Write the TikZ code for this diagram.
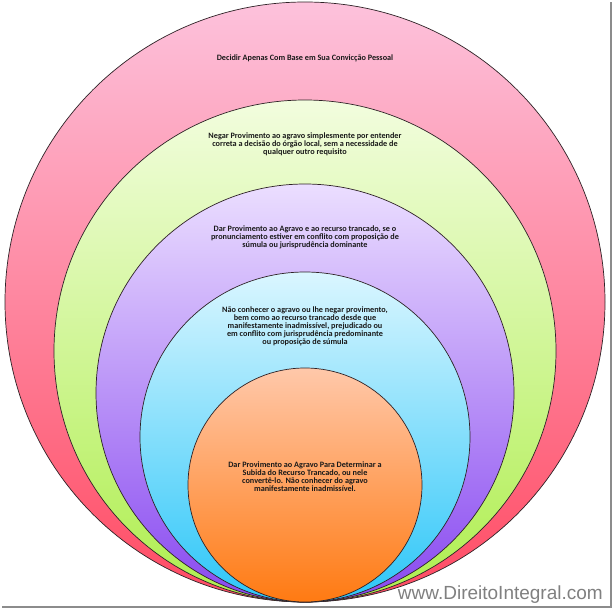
\documentclass[tikz,border=0pt]{standalone}
\usepackage{fontspec}
\setmainfont{Carlito}
\newfontfamily\webfont{Liberation Sans}
\usetikzlibrary{positioning}
\definecolor{pinkTop}{HTML}{FDC2DC}
\definecolor{pinkBot}{HTML}{FF4A62}
\definecolor{greenTop}{HTML}{F2FDDE}
\definecolor{greenBot}{HTML}{AEEE4E}
\definecolor{purpleTop}{HTML}{EBDEFF}
\definecolor{purpleBot}{HTML}{8848F0}
\definecolor{blueTop}{HTML}{DAF6FF}
\definecolor{blueBot}{HTML}{2CC6F8}
\definecolor{orangeTop}{HTML}{FFC8AA}
\definecolor{orangeBot}{HTML}{FF7A12}
\definecolor{ringLine}{HTML}{2E2226}

\begin{document}
\begin{tikzpicture}[x=1pt, y=-1pt,
    ringCircle/.style={circle, draw=ringLine, line width=0.7pt, inner sep=0pt, shading=axis},
    ringText/.style={font=\fontsize{8.2}{8}\selectfont\bfseries, text=black!90, align=center, inner sep=0pt},
    frameEdge/.style={fill=black!45}
]
    \useasboundingbox (0,0) rectangle (614,611);
    \fill[white] (0,0) rectangle (614,611);

    \node[ringCircle, minimum size=600pt, top color=pinkTop, bottom color=pinkBot] (pink) at (305,302) {};
    \node[ringCircle, minimum size=502pt, top color=greenTop, bottom color=greenBot] (green) at (305,351) {};
    \node[ringCircle, minimum size=418pt, top color=purpleTop, bottom color=purpleBot] (purple) at (305,393) {};
    \node[ringCircle, minimum size=330pt, top color=blueTop, bottom color=blueBot] (blue) at (305,437) {};
    \node[ringCircle, minimum size=234pt, top color=orangeTop, bottom color=orangeBot] (orange) at (305,485) {};

    \node[ringText, below=53pt of pink.north] (tPink) {Decidir Apenas Com Base em Sua Convicção Pessoal};
    \node[ringText, below=33pt of green.north] (tGreen) {
        Negar Provimento ao agravo simplesmente por entender\\
        correta a decisão do órgão local, sem a necessidade de\\
        qualquer outro requisito};
    \node[ringText, below=42pt of purple.north] (tPurple) {
        Dar Provimento ao Agravo e ao recurso trancado, se o\\
        pronunciamento estiver em conflito com proposição de\\
        súmula ou jurisprudência dominante};
    \node[ringText, below=35pt of blue.north] (tBlue) {
        Não conhecer o agravo ou lhe negar provimento,\\
        bem como ao recurso trancado desde que\\
        manifestamente inadmissível, prejudicado ou\\
        em conflito com jurisprudência predominante\\
        ou proposição de súmula};
    \node[ringText, below=94pt of orange.north] (tOrange) {
        Dar Provimento ao Agravo Para Determinar a\\
        Subida do Recurso Trancado, ou nele\\
        convertê-lo. Não conhecer do agravo\\
        manifestamente inadmissível.};

    \node[font=\webfont\fontsize{19}{19}\selectfont, text=black!50, anchor=base east, inner sep=0pt] (site) at (603,599) {www.DireitoIntegral.com};

    \fill[frameEdge] (2,605.5) rectangle (611,608);
    \fill[frameEdge] (609.5,2) rectangle (611.5,608);
\end{tikzpicture}
\end{document}
